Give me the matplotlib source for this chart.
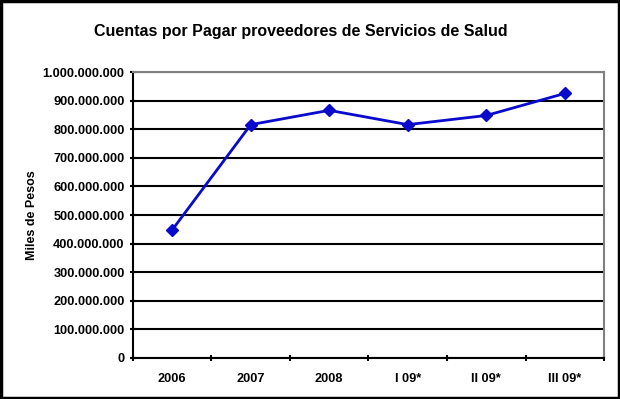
import matplotlib.pyplot as plt
from matplotlib.ticker import FuncFormatter, FixedLocator
from matplotlib.patches import Rectangle

# datos (miles de pesos)
periodos = ['2006', '2007', '2008', 'I 09*', 'II 09*', 'III 09*']
cuentas = [448000000, 816000000, 866000000, 816000000, 848000000, 925000000]

plt.rcParams['font.family'] = ['Liberation Sans', 'DejaVu Sans']

fig = plt.figure(figsize=(6.2, 3.99), dpi=100)
ax = fig.add_axes([0.2145, 0.1028, 0.7597, 0.7167])

x = list(range(len(periodos)))
ax.plot(x, cuentas, color='#0A0ACC', linewidth=2, marker='D', markersize=6.5)

ax.set_xlim(-0.5, len(periodos) - 0.5)
ax.set_ylim(0, 1000000000)
ax.set_yticks(range(0, 1000000001, 100000000))
ax.yaxis.set_major_formatter(FuncFormatter(lambda v, p: f'{int(v):,}'.replace(',', '.')))
ax.yaxis.grid(True, color='black', linewidth=1.5)
ax.set_axisbelow(True)

# etiquetas centradas, marcas entre categorias
ax.set_xticks(x)
ax.set_xticklabels(periodos)
ax.xaxis.set_minor_locator(FixedLocator([i - 0.5 for i in range(len(periodos) + 1)]))
ax.tick_params(axis='x', which='major', length=0, pad=11)
ax.tick_params(axis='x', which='minor', length=4, width=1.5, direction='inout')
ax.tick_params(axis='y', length=4, width=1.5, direction='inout', pad=4)
for lbl in ax.get_xticklabels() + ax.get_yticklabels():
    lbl.set_fontsize(9.2)
    lbl.set_fontweight('bold')

for s in ['left', 'bottom']:
    ax.spines[s].set_color('black')
    ax.spines[s].set_linewidth(1.5)
for s in ['top', 'right']:
    ax.spines[s].set_color('#808080')
    ax.spines[s].set_linewidth(1.5)

ax.set_ylabel('Miles de Pesos', fontsize=9, fontweight='bold', labelpad=3)
fig.text(0.485, 0.92, 'Cuentas por Pagar proveedores de Servicios de Salud',
         ha='center', va='center', fontsize=11.5, fontweight='bold')

# marco del grafico
fig.patches.append(Rectangle((0.002, 0.003), 0.996, 0.994, transform=fig.transFigure,
                             fill=False, edgecolor='black', linewidth=2.5))

fig.savefig('out.png', dpi=100)
